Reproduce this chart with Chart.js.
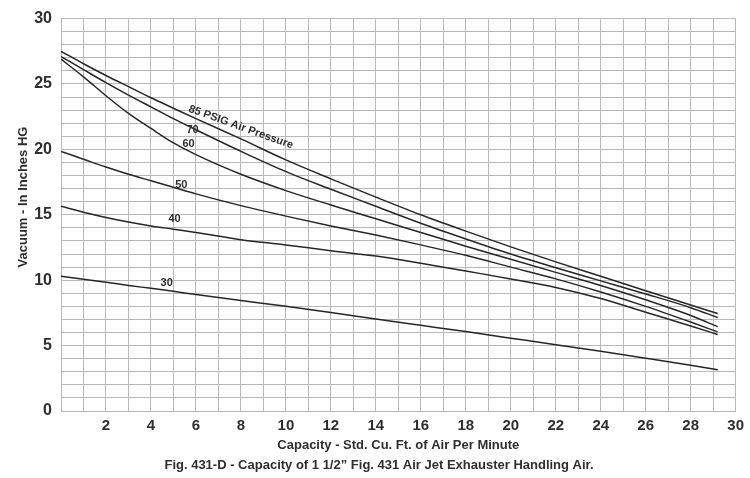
<!DOCTYPE html>
<html>
<head>
<meta charset="utf-8">
<script src="https://cdn.jsdelivr.net/npm/chart.js@4/dist/chart.umd.min.js"></script>
<style>
    html, body { margin: 0; padding: 0; background: #fff; }
    #wrap { width: 750px; height: 478px; }
</style>
</head>
<body>
<div id="wrap"><canvas id="vacuum-chart" width="750" height="478"></canvas></div>
<script>
// capacity (std cu ft of air per minute)
const capacity = [0, 1, 2, 3, 4, 5, 6, 8, 10, 12, 14, 16, 18, 20, 22, 24, 26, 28, 29.2];

// vacuum (inches HG) for each air pressure
const psig85 = [27.5, 26.55, 25.65, 24.8, 23.95, 23.15, 22.35, 20.8, 19.2, 17.75, 16.35, 15.0, 13.75, 12.55, 11.4, 10.3, 9.2, 8.1, 7.45];
const psig70 = [27.1, 26.1, 25.1, 24.15, 23.25, 22.35, 21.5, 19.85, 18.3, 16.95, 15.65, 14.35, 13.15, 12.0, 10.95, 9.95, 8.95, 7.9, 7.15];
const psig60 = [26.9, 25.55, 24.1, 22.75, 21.6, 20.5, 19.6, 18.1, 16.85, 15.75, 14.7, 13.65, 12.6, 11.6, 10.6, 9.6, 8.5, 7.3, 6.45];
const psig50 = [19.85, 19.25, 18.65, 18.1, 17.6, 17.1, 16.6, 15.7, 14.9, 14.15, 13.45, 12.7, 11.9, 11.0, 10.1, 9.1, 8.0, 6.8, 6.05];
const psig40 = [15.65, 15.2, 14.8, 14.45, 14.15, 13.9, 13.65, 13.1, 12.7, 12.25, 11.85, 11.3, 10.7, 10.1, 9.45, 8.6, 7.55, 6.5, 5.85];
const psig30 = [10.3, 10.07, 9.85, 9.6, 9.38, 9.15, 8.9, 8.45, 8.0, 7.53, 7.03, 6.55, 6.07, 5.57, 5.07, 4.56, 4.04, 3.5, 3.15];

const seriesNames = ["85", "70", "60", "50", "40", "30"];
const seriesValues = [psig85, psig70, psig60, psig50, psig40, psig30];

// curve labels placed in data units
const curveLabels = [
    { text: "85 PSIG Air Pressure", x: 8.0, y: 21.7, angle: 19.7 },
    { text: "70", x: 5.85, y: 21.5, angle: 0 },
    { text: "60", x: 5.67, y: 20.4, angle: 0 },
    { text: "50", x: 5.35, y: 17.3, angle: 0 },
    { text: "40", x: 5.05, y: 14.65, angle: 0 },
    { text: "30", x: 4.7, y: 9.8, angle: 0 }
];

const FONT = "'Liberation Sans', Arial, sans-serif";
const TEXT = "#2e2e2e";
const GRID = "#b9b9b9";

const curveLabelPlugin = {
    id: "curveLabels",
    afterDatasetsDraw(chart) {
        const { ctx, scales } = chart;
        ctx.save();
        ctx.fillStyle = TEXT;
        ctx.font = "bold 11px " + FONT;
        ctx.textAlign = "center";
        ctx.textBaseline = "middle";
        curveLabels.forEach(l => {
            const px = scales.x.getPixelForValue(l.x);
            const py = scales.y.getPixelForValue(l.y);
            ctx.save();
            ctx.translate(px, py);
            ctx.rotate(l.angle * Math.PI / 180);
            ctx.fillText(l.text, 0, 0);
            ctx.restore();
        });
        // y axis title
        ctx.save();
        ctx.font = "bold 13px " + FONT;
        ctx.translate(23, 197);
        ctx.rotate(-Math.PI / 2);
        ctx.fillText("Vacuum - In Inches HG", 0, 0);
        ctx.restore();
        // caption under the chart
        ctx.font = "bold 13px " + FONT;
        ctx.fillText("Fig. 431-D - Capacity of 1 1/2\u201D Fig. 431 Air Jet Exhauster Handling Air.", 379, 465);
        ctx.restore();
    }
};

const datasets = seriesValues.map((vals, i) => ({
    label: seriesNames[i],
    data: capacity.map((c, j) => ({ x: c, y: vals[j] })),
    borderColor: "#262626",
    borderWidth: 1.5,
    pointRadius: 0,
    fill: false,
    cubicInterpolationMode: "monotone"
}));

new Chart(document.getElementById("vacuum-chart"), {
    type: "line",
    data: { datasets: datasets },
    options: {
        responsive: false,
        animation: false,
        layout: { padding: { top: 14, right: 10, bottom: 25, left: 0 } },
        plugins: {
            legend: { display: false },
            tooltip: { enabled: false }
        },
        scales: {
            x: {
                type: "linear",
                min: 0,
                max: 30,
                grid: { color: GRID, lineWidth: 1, drawTicks: false },
                border: { color: GRID },
                ticks: {
                    stepSize: 1,
                    autoSkip: false,
                    maxRotation: 0,
                    padding: 6,
                    color: TEXT,
                    font: { family: FONT, size: 15, weight: "bold" },
                    callback: v => (v % 2 === 0 && v !== 0) ? String(v) : ""
                },
                title: {
                    display: true,
                    text: "Capacity - Std. Cu. Ft. of Air Per Minute",
                    color: TEXT,
                    font: { family: FONT, size: 13, weight: "bold" },
                    padding: { top: 2, bottom: 0 }
                },
                afterFit: s => { s.height = 42; }
            },
            y: {
                min: 0,
                max: 30,
                grid: { color: GRID, lineWidth: 1, drawTicks: false },
                border: { color: GRID },
                ticks: {
                    stepSize: 1,
                    autoSkip: false,
                    padding: 9,
                    color: TEXT,
                    font: { family: FONT, size: 16, weight: "bold" },
                    callback: v => v % 5 === 0 ? String(v) : ""
                },
                afterFit: s => { s.width = 61; }
            }
        }
    },
    plugins: [curveLabelPlugin]
});
</script>
</body>
</html>
